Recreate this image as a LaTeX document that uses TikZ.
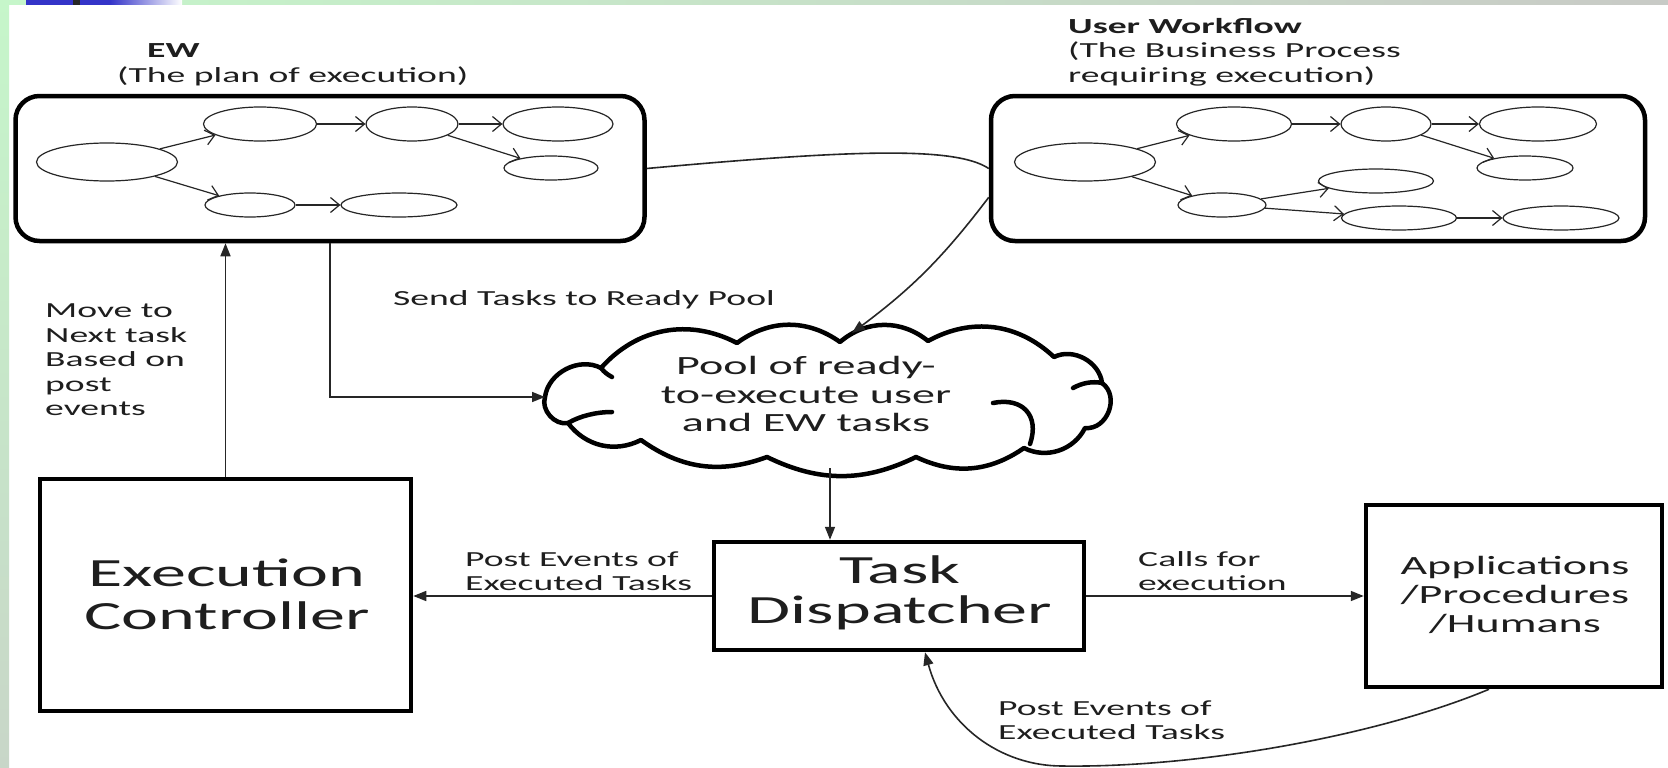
\documentclass[tikz,border=0pt]{standalone}
\usepackage{fontspec}
\setmainfont{Carlito}[FakeStretch=1.75]
\usetikzlibrary{arrows.meta,shapes.geometric}
\definecolor{stripgreen}{HTML}{C6F6CA}
\definecolor{stripgray}{HTML}{C8CAC6}
\definecolor{leftgray}{HTML}{C8D6C8}
\definecolor{barblue}{HTML}{3434C8}
\definecolor{ink}{HTML}{1E1E1E}
\tikzset{
  bigbox/.style={draw=black, line width=4.5pt, rectangle, inner sep=0pt},
  wfbox/.style={bigbox, rounded corners=24pt},
  ell/.style={draw=black!85, ellipse, line width=1.2pt, inner sep=0pt},
  flow/.style={draw=black!85, line width=1.2pt, -{Straight Barb[length=9pt,width=15pt]}},
  conn/.style={draw=black!85, line width=1.6pt, -{Triangle[length=13pt,width=10pt]}},
  plainline/.style={draw=black!85, line width=1.6pt},
  cloudline/.style={draw=black, line width=4.5pt, line join=round, line cap=round},
  lbl/.style={font=\fontsize{21.5}{24.5}\selectfont, text=ink, align=left, inner sep=0pt, anchor=west},
  midtxt/.style={font=\fontsize{26.3}{28.8}\selectfont, text=ink, align=center, inner sep=0pt},
  bigtxt/.style={font=\fontsize{40}{43}\selectfont, text=ink, align=center, inner sep=0pt}
}
\begin{document}
\begin{tikzpicture}[x=1pt,y=-1pt]
% background and frame strips
\fill[white] (0,0) rectangle (1668,768);
\useasboundingbox (0,0) rectangle (1668,768);
\shade[left color=stripgreen, right color=stripgray] (0,0) rectangle (1668,5);
\shade[top color=stripgreen, bottom color=leftgray] (0,0) rectangle (9,768);
\fill[barblue] (26,0) rectangle (110,5);
\shade[left color=barblue, right color=white] (110,0) rectangle (182,5);
\fill[black!85] (73,0) rectangle (80,5);

% titles
\node[lbl] (ewtitle) at (117,65) {\hspace*{30pt}\textbf{EW}\\(The plan of execution)};
\node[lbl] (uwtitle) at (1068,52) {\textbf{User Workflow}\\(The Business Process\\requiring execution)};

% EW box
\node[wfbox, minimum width=629pt, minimum height=145pt] (ew) at (330,168.5) {};
\node[ell, minimum width=141pt, minimum height=38pt] (ewA) at (107,162) {};
\node[ell, minimum width=113pt, minimum height=34pt] (ewB) at (260,124) {};
\node[ell, minimum width=92pt, minimum height=34pt] (ewC) at (412,124) {};
\node[ell, minimum width=110pt, minimum height=34pt] (ewD) at (558,124) {};
\node[ell, minimum width=94pt, minimum height=24pt] (ewE) at (551,168) {};
\node[ell, minimum width=90pt, minimum height=24pt] (ewF) at (250,205) {};
\node[ell, minimum width=116pt, minimum height=24pt] (ewG) at (399,205) {};
\draw[flow] (ewA) -- (ewB);
\draw[flow] (ewA) -- (ewF);
\draw[flow] (ewB) -- (ewC);
\draw[flow] (ewC) -- (ewD);
\draw[flow] (ewC) -- (ewE);
\draw[flow] (ewF) -- (ewG);

% User workflow box
\node[wfbox, minimum width=654pt, minimum height=145pt] (uw) at (1318,168.5) {};
\node[ell, minimum width=141pt, minimum height=38pt] (uwA) at (1085,162) {};
\node[ell, minimum width=115pt, minimum height=34pt] (uwB) at (1234,124) {};
\node[ell, minimum width=90pt, minimum height=34pt] (uwC) at (1386,124) {};
\node[ell, minimum width=117pt, minimum height=34pt] (uwD) at (1538,124) {};
\node[ell, minimum width=96pt, minimum height=24pt] (uwE) at (1525,168) {};
\node[ell, minimum width=88pt, minimum height=24pt] (uwF) at (1222,205) {};
\node[ell, minimum width=115pt, minimum height=24pt] (uwG) at (1376,181) {};
\node[ell, minimum width=115pt, minimum height=24pt] (uwH) at (1399,218) {};
\node[ell, minimum width=116pt, minimum height=24pt] (uwI) at (1561,218) {};
\draw[flow] (uwA) -- (uwB);
\draw[flow] (uwA) -- (uwF);
\draw[flow] (uwB) -- (uwC);
\draw[flow] (uwC) -- (uwD);
\draw[flow] (uwC) -- (uwE);
\draw[flow] (uwF) -- (uwG);
\draw[flow] (uwF) -- (uwH);
\draw[flow] (uwH) -- (uwI);

% cloud (pool of ready tasks), drawn as puffs
\coordinate (c1) at (545,397);
\coordinate (c2) at (601,368);
\coordinate (c3) at (737,343);
\coordinate (c4) at (840,342);
\coordinate (c5) at (928,341);
\coordinate (c6) at (1054,357);
\coordinate (c7) at (1102,383);
\coordinate (c8) at (1085,428);
\coordinate (c9) at (1024,448);
\coordinate (c10) at (916,457);
\coordinate (c11) at (767,457);
\coordinate (c12) at (641,440);
\coordinate (c13) at (568,423);
\draw[cloudline] (c1) to[bend left=55] (c2) to[bend left=38] (c3) to[bend left=36] (c4)
  to[bend left=40] (c5) to[bend left=36] (c6) to[bend left=55] (c7)
  to[bend left=75, looseness=1.2] (c8) to[bend left=45] (c9) to[bend left=30] (c10)
  to[bend left=26] (c11) to[bend left=28] (c12) to[bend left=40] (c13) to[bend left=60] (c1);
\draw[cloudline] (993,403) .. controls (1022,397) and (1040,415) .. (1030,444);
\draw[cloudline] (c7) .. controls (1092,381) and (1082,383) .. (1073,388);
\draw[cloudline] (c13) .. controls (580,416) and (596,412) .. (612,412);
\draw[cloudline] (c2) .. controls (604,372) and (608,375) .. (612,377);
\node[midtxt] (pooltext) at (806,394) {Pool of ready-\\to-execute user\\and EW tasks};
\coordinate (poolN) at (852,333);
\coordinate (poolS) at (830,468);

% lower boxes
\node[bigbox, minimum width=371pt, minimum height=232pt] (ec) at (225.5,595) {};
\node[bigtxt] (ectext) at (227,594) {Execution\\Controller};
\node[bigbox, minimum width=370pt, minimum height=108pt] (td) at (899,596) {};
\node[bigtxt, font=\fontsize{40}{40}\selectfont] (tdtext) at (900,593) {Task\\Dispatcher};
\node[bigbox, minimum width=296pt, minimum height=182pt] (app) at (1514,596) {};
\node[midtxt] (apptext) at (1515,595) {Applications\\/Procedures\\/Humans};

% labels
\node[lbl] (movelbl) at (45,360) {Move to\\Next task\\Based on\\post\\events};
\node[lbl] (sendlbl) at (393,300) {Send Tasks to Ready Pool};
\node[lbl] (postlbl) at (465,571) {Post Events of\\Executed Tasks};
\node[lbl] (calllbl) at (1138,571) {Calls for\\execution};
\node[lbl] (postlbl2) at (998,720) {Post Events of\\Executed Tasks};

% connectors
\coordinate (sendx) at (330,0);
\draw[plainline] (ew.east) .. controls (850,150) and (955,146) .. (uw.west);
\draw[conn] (uw.185) to[bend left=8] (poolN);
\draw[conn] (ew.south -| sendx) |- (c1);
\draw[conn] (ec.north) -- (ec.north |- ew.south);
\draw[conn] (poolS) -- (poolS |- td.north);
\draw[conn] (td.west) -- (td.west -| ec.east);
\draw[conn] (td.east) -- (td.east -| app.west);
\draw[conn] ([xshift=-25pt]app.south) .. controls (1380,735) and (1200,768) .. (1062,766)
   .. controls (1000,766) and (945,725) .. ([xshift=26pt]td.south);
\end{tikzpicture}
\end{document}
